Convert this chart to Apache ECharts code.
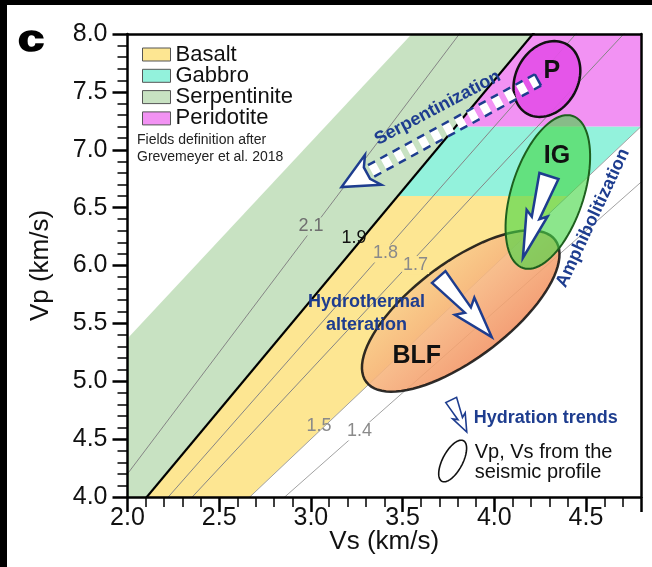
<!DOCTYPE html>
<html>
<head>
<meta charset="utf-8">
<title>Vp vs Vs</title>
<script src="https://cdn.jsdelivr.net/npm/echarts@6/dist/echarts.min.js"></script>
<style>
  html, body { margin: 0; padding: 0; background: #fff; }
  #chart { width: 652px; height: 567px; }
</style>
</head>
<body>
<div id="chart"></div>
<script>
// rock fields (after Grevemeyer et al. 2018), vertices as [Vs, Vp] in km/s
var fieldNames = ['Basalt', 'Gabbro', 'Serpentinite', 'Peridotite'];
var basaltField = [[2.105, 4.0], [2.667, 4.0], [4.4, 6.6], [3.474, 6.6]];
var gabbroField = [[3.474, 6.6], [4.4, 6.6], [4.8, 7.2], [3.789, 7.2]];
var serpentiniteField = [[2.0, 4.0], [2.105, 4.0], [4.2105, 8.0], [3.55, 8.0], [2.0, 5.37]];
var peridotiteField = [[3.789, 7.2], [4.8, 7.2], [4.8, 8.0], [4.2105, 8.0]];

// lines of constant Vp/Vs and where their labels sit
var ratios = [2.1, 1.9, 1.8, 1.7, 1.5, 1.4];
var ratioLabels = ['2.1', '1.9', '1.8', '1.7', '1.5', '1.4'];
var ratioLabelPos = [[3.0, 6.337], [3.235, 6.238], [3.407, 6.104], [3.571, 6.004], [3.044, 4.609], [3.265, 4.566]];

// Vp, Vs from the seismic profile: centre, end of long axis, end of short axis
var ellipseNames = ['BLF', 'IG', 'P'];
var ellipseCentre = [[3.817, 5.607], [4.292, 6.635], [4.287, 7.611]];
var ellipseMajor = [[4.332, 6.220], [4.427, 7.292], [4.396, 7.910]];
var ellipseMinor = [[3.975, 5.275], [4.479, 6.539], [4.433, 7.477]];
var ellipseLabelPos = [[3.577, 5.218], [4.342, 6.946], [4.314, 7.680]];

// hydration trends [tail, tip]
var serpArrow = [[4.238, 7.603], [3.167, 6.678]];
var igArrow = [[4.298, 6.773], [4.156, 6.065]];
var hydroArrow = [[3.697, 5.901], [3.986, 5.382]];

// key (bottom right)
var keyArrow = [[3.765, 4.838], [3.850, 4.561]];
var keyEllipse = [[3.773, 4.311], [3.832, 4.486], [3.821, 4.270]];

var xTicks = [2.0, 4.8];
var yTicks = [4.0, 8.0];

var font = '"Liberation Sans", Arial, Helvetica, sans-serif';
var blue = '#1e3d8f';
var fieldColors = ['#fde692', '#93f2dc', '#c8e2c2', '#f292f3'];

var chart = echarts.init(document.getElementById('chart'));

function coords(api, list) {
    return list.map(function (p) { return api.coord(p); });
}

// parametric ellipse in data space (affine -> stays an ellipse on screen)
function ellipsePts(api, c, m, n) {
    var pts = [];
    for (var k = 0; k < 90; k++) {
        var t = 2 * Math.PI * k / 90;
        var cs = Math.cos(t), sn = Math.sin(t);
        pts.push(api.coord([
            c[0] + (m[0] - c[0]) * cs + (n[0] - c[0]) * sn,
            c[1] + (m[1] - c[1]) * cs + (n[1] - c[1]) * sn
        ]));
    }
    return pts;
}

// hollow arrow outline: tail half width w0, neck w1, head wh, head length hl
function arrowPts(p0, p1, w0, w1, wh, hl, notch) {
    var dx = p1[0] - p0[0], dy = p1[1] - p0[1];
    var len = Math.sqrt(dx * dx + dy * dy);
    var ux = dx / len, uy = dy / len, nx = -uy, ny = ux;
    var bx = p1[0] - ux * hl, by = p1[1] - uy * hl;
    var wx = bx - ux * notch, wy = by - uy * notch;
    return [
        [p0[0] + nx * w0, p0[1] + ny * w0],
        [bx + nx * w1, by + ny * w1],
        [wx + nx * wh, wy + ny * wh],
        [p1[0], p1[1]],
        [wx - nx * wh, wy - ny * wh],
        [bx - nx * w1, by - ny * w1],
        [p0[0] - nx * w0, p0[1] - ny * w0]
    ];
}

var series = [];

// fields
[basaltField, gabbroField, serpentiniteField, peridotiteField].forEach(function (pts, i) {
    series.push({
        name: fieldNames[i],
        type: 'custom',
        coordinateSystem: 'cartesian2d',
        z: 1,
        silent: true,
        itemStyle: { color: fieldColors[i] },
        data: [pts[0]],
        renderItem: function (params, api) {
            return {
                type: 'polygon',
                shape: { points: coords(api, pts) },
                style: { fill: fieldColors[i] }
            };
        }
    });
});

// Vp/Vs lines, clipped by the grid
ratios.forEach(function (r) {
    series.push({
        type: 'line',
        z: 2,
        silent: true,
        symbol: 'none',
        data: [[0, 0], [5, 5 * r]],
        lineStyle: {
            color: r === 1.9 ? '#000' : (r < 1.6 ? '#a2a2a2' : '#858585'),
            width: r === 1.9 ? 2.2 : 1
        }
    });
});

// ellipses
var blfFill = new echarts.graphic.LinearGradient(0.2, 0.1, 0.8, 0.9, [
    { offset: 0, color: '#fbe29a' },
    { offset: 0.5, color: '#f6b07a' },
    { offset: 1, color: '#ef7c53' }
]);
var ellipseStyles = [
    { fill: blfFill, stroke: '#111', lineWidth: 2.5, opacity: 0.88 },
    { fill: 'rgba(70, 214, 70, 0.62)', stroke: '#1e5f1e', lineWidth: 2 },
    { fill: 'rgba(228, 80, 232, 0.92)', stroke: '#111', lineWidth: 2.5 }
];
series.push({
    type: 'custom',
    coordinateSystem: 'cartesian2d',
    z: 3,
    silent: true,
    data: ellipseCentre,
    renderItem: function (params, api) {
        var i = params.dataIndex;
        return {
            type: 'polygon',
            shape: { points: ellipsePts(api, ellipseCentre[i], ellipseMajor[i], ellipseMinor[i]) },
            style: ellipseStyles[i]
        };
    }
});

// hydration trend arrows + key
series.push({
    type: 'custom',
    coordinateSystem: 'cartesian2d',
    z: 4,
    silent: true,
    data: [serpArrow[1]],
    renderItem: function (params, api) {
        var kids = [];
        // serpentinization: dashed shaft + hollow head
        var s0 = api.coord(serpArrow[0]), s1 = api.coord(serpArrow[1]);
        var dx = s1[0] - s0[0], dy = s1[1] - s0[1];
        var len = Math.sqrt(dx * dx + dy * dy);
        var ux = dx / len, uy = dy / len, nx = -uy, ny = ux;
        var hl = 30, w1 = 6.5;
        var bx = s1[0] - ux * hl, by = s1[1] - uy * hl;
        kids.push({ type: 'line', shape: { x1: s0[0], y1: s0[1], x2: bx, y2: by },
            style: { stroke: '#fff', lineWidth: 2 * w1, lineDash: [8, 6] } });
        [1, -1].forEach(function (sg) {
            kids.push({ type: 'line',
                shape: { x1: s0[0] + sg * nx * w1, y1: s0[1] + sg * ny * w1, x2: bx + sg * nx * w1, y2: by + sg * ny * w1 },
                style: { stroke: blue, lineWidth: 2.5, lineDash: [8, 6] } });
        });
        kids.push({ type: 'line',
            shape: { x1: s0[0] + nx * w1, y1: s0[1] + ny * w1, x2: s0[0] - nx * w1, y2: s0[1] - ny * w1 },
            style: { stroke: blue, lineWidth: 2.5 } });
        var head = arrowPts([bx, by], s1, w1, w1, 17, hl - 1, 7).slice(1, 6);
        kids.push({ type: 'polygon', shape: { points: head },
            style: { fill: '#fff', stroke: blue, lineWidth: 2.5, lineJoin: 'miter' } });

        kids.push({ type: 'polygon',
            shape: { points: arrowPts(api.coord(igArrow[0]), api.coord(igArrow[1]), 10, 4, 11, 42, 5) },
            style: { fill: '#fff', stroke: blue, lineWidth: 2.5 } });
        kids.push({ type: 'polygon',
            shape: { points: arrowPts(api.coord(hydroArrow[0]), api.coord(hydroArrow[1]), 9, 4, 13, 36, 5) },
            style: { fill: '#fff', stroke: blue, lineWidth: 2.5 } });
        kids.push({ type: 'polygon',
            shape: { points: arrowPts(api.coord(keyArrow[0]), api.coord(keyArrow[1]), 6, 2.5, 7, 15, 3) },
            style: { fill: '#fff', stroke: blue, lineWidth: 1.6 } });
        kids.push({ type: 'polygon',
            shape: { points: ellipsePts(api, keyEllipse[0], keyEllipse[1], keyEllipse[2]) },
            style: { fill: 'none', stroke: '#111', lineWidth: 1.6 } });
        return { type: 'group', children: kids };
    }
});

// texts placed in data coordinates
var ratioLabelBg = { '2.1': '#c8e2c2', '1.8': '#fde692', '1.7': '#fde692', '1.4': '#fff' };
series.push({
    type: 'custom',
    coordinateSystem: 'cartesian2d',
    z: 5,
    silent: true,
    data: [ratioLabelPos[0]],
    renderItem: function (params, api) {
        var kids = [];
        ratioLabels.forEach(function (t, i) {
            var p = api.coord(ratioLabelPos[i]);
            kids.push({ type: 'text', x: p[0], y: p[1], style: {
                text: t, fontFamily: font, fontSize: 18, align: 'center', verticalAlign: 'middle',
                backgroundColor: ratioLabelBg[t] || 'transparent', padding: [0, 1],
                fill: t === '1.9' ? '#111' : (t === '2.1' ? '#6f6f6f' : '#8a8a8a') } });
        });
        ellipseNames.forEach(function (t, i) {
            var p = api.coord(ellipseLabelPos[i]);
            kids.push({ type: 'text', x: p[0], y: p[1], style: {
                text: t, fontFamily: font, fontSize: 25, fontWeight: 'bold', fill: '#111',
                align: 'center', verticalAlign: 'middle' } });
        });
        var notes = [
            { t: 'Serpentinization', p: [3.691, 7.361], rot: 28, align: 'center' },
            { t: 'Amphibolitization', p: [4.538, 6.41], rot: 65, align: 'center' },
            { t: 'Hydrothermal\nalteration', p: [3.303, 5.585], rot: 0, align: 'center' },
            { t: 'Hydration trends', p: [3.888, 4.682], rot: 0, align: 'left' }
        ];
        notes.forEach(function (n) {
            var p = api.coord(n.p);
            kids.push({ type: 'text', x: p[0], y: p[1], rotation: n.rot * Math.PI / 180, style: {
                text: n.t, fontFamily: font, fontSize: 18, fontWeight: 'bold', fill: blue,
                lineHeight: 23, align: n.align, verticalAlign: 'middle' } });
        });
        var k = api.coord([3.893, 4.302]);
        kids.push({ type: 'text', x: k[0], y: k[1], style: {
            text: 'Vp, Vs from the\nseismic profile', fontFamily: font, fontSize: 20, fill: '#111',
            lineHeight: 20, align: 'left', verticalAlign: 'middle' } });
        return { type: 'group', children: kids };
    }
});

var axisCommon = {
    type: 'value',
    splitLine: { show: false },
    axisLine: { show: true, onZero: false, lineStyle: { color: '#000', width: 2.5 } },
    z: 10
};

var option = {
    animation: false,
    backgroundColor: '#fff',
    textStyle: { fontFamily: font },
    grid: { left: 127.5, right: 11, top: 34, bottom: 70, outerBoundsMode: 'none' },
    legend: {
        data: fieldNames,
        orient: 'vertical',
        left: 137,
        top: 38.5,
        itemWidth: 28,
        itemHeight: 13,
        itemGap: -0.7,
        icon: 'rect',
        selectedMode: false,
        itemStyle: { borderColor: '#555', borderWidth: 1 },
        textStyle: { fontSize: 22, lineHeight: 20, color: '#111', fontFamily: font }
    },
    xAxis: [
        echarts.util.merge({
            min: xTicks[0], max: xTicks[1], interval: 0.5,
            name: 'Vs (km/s)', nameLocation: 'middle', nameGap: 32, nameMoveOverlap: false,
            nameTextStyle: { fontSize: 26, color: '#111', fontFamily: font },
            axisTick: { show: true, length: 15, lineStyle: { color: '#000', width: 2.5 } },
            minorTick: { show: true, splitNumber: 5, length: 10, lineStyle: { color: '#000', width: 1.5 } },
            axisLabel: { fontSize: 25, color: '#111', margin: 9, showMaxLabel: false,
                formatter: function (v) { return v.toFixed(1); } }
        }, axisCommon),
        echarts.util.merge({
            position: 'top', min: xTicks[0], max: xTicks[1], interval: 0.5,
            axisTick: { show: false }, axisLabel: { show: false }
        }, axisCommon)
    ],
    yAxis: [
        echarts.util.merge({
            min: yTicks[0], max: yTicks[1], interval: 0.5,
            name: 'Vp (km/s)', nameLocation: 'middle', nameGap: 74, nameMoveOverlap: false,
            nameTextStyle: { fontSize: 26, color: '#111', fontFamily: font },
            axisTick: { show: true, length: 15, lineStyle: { color: '#000', width: 2.5 } },
            minorTick: { show: true, splitNumber: 5, length: 10, lineStyle: { color: '#000', width: 1.5 } },
            axisLabel: { fontSize: 25, color: '#111', margin: 20,
                formatter: function (v) { return v.toFixed(1); } }
        }, axisCommon),
        echarts.util.merge({
            position: 'right', min: yTicks[0], max: yTicks[1], interval: 0.5,
            axisTick: { show: false }, axisLabel: { show: false }
        }, axisCommon)
    ],
    graphic: [
        { type: 'rect', left: 0, top: 0, shape: { width: 652, height: 5 }, style: { fill: '#000' } },
        { type: 'rect', left: 0, top: 0, shape: { width: 7, height: 567 }, style: { fill: '#000' } },
        { type: 'text', x: 31, y: 41, scaleX: 1.3, style: {
            text: 'c', fontFamily: font, fontSize: 36, fontWeight: 'bold', fill: '#000',
            stroke: '#000', lineWidth: 1.6,
            align: 'center', verticalAlign: 'middle' } },
        { type: 'text', left: 137, top: 132, style: {
            text: 'Fields definition after\nGrevemeyer et al. 2018', fontFamily: font,
            fontSize: 14, lineHeight: 17, fill: '#222' } }
    ],
    series: series
};

chart.setOption(option);
</script>
</body>
</html>
